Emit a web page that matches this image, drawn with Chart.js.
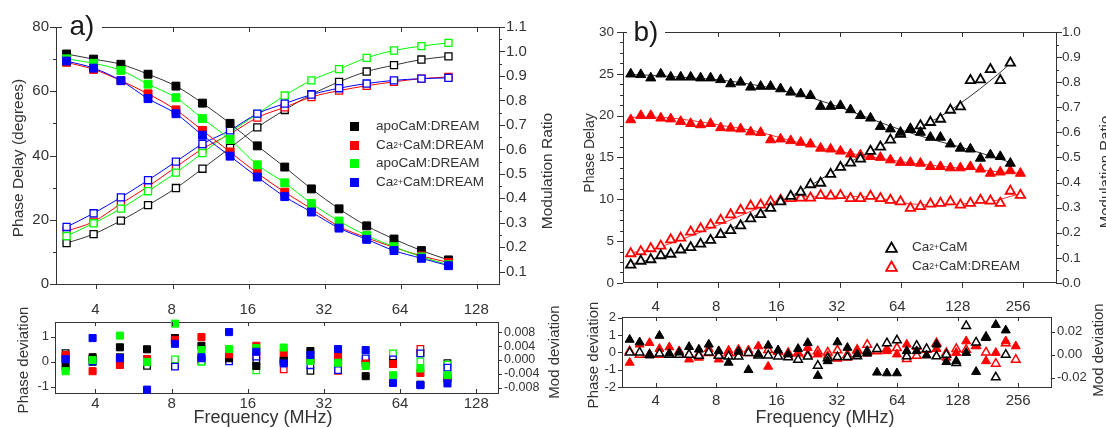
<!DOCTYPE html>
<html><head><meta charset="utf-8">
<script src="https://cdn.jsdelivr.net/npm/chart.js@4.4.1/dist/chart.umd.min.js"></script>
<style>
html,body{margin:0;padding:0;background:#fff;}
body{width:1106px;height:428px;position:relative;overflow:hidden;font-family:'Liberation Sans',Arial,sans-serif;color:#333;}
canvas{position:absolute;}
.t{position:absolute;white-space:nowrap;color:#333;line-height:1;}
.r{transform:translate(-50%,-50%) rotate(-90deg);}
.h{transform:translate(-50%,-50%);}
.row{position:absolute;height:14px;display:flex;align-items:center;font-size:13.5px;color:#333;white-space:nowrap;line-height:1;}
.sq{display:inline-block;width:9px;height:9px;margin-right:17px;}
sup{font-size:8.5px;vertical-align:6px;line-height:0;}
.pl{position:absolute;background:#fff;font-size:28px;color:#1a1a1a;line-height:1;text-align:center;}
</style></head><body>
<canvas id="aMain" width="560" height="300" style="left:0;top:0"></canvas>
<canvas id="aRes" width="560" height="128" style="left:0;top:300px"></canvas>
<canvas id="bMain" width="546" height="300" style="left:560px;top:0"></canvas>
<canvas id="bRes" width="546" height="128" style="left:560px;top:300px"></canvas>

<div class="pl" style="left:62px;top:12px;width:40px;">a)</div>
<div class="pl" style="left:627px;top:18px;width:38px;">b)</div>

<div class="t r" style="left:18px;top:158px;font-size:15.5px;">Phase Delay (degrees)</div>
<div class="t r" style="left:547px;top:171px;font-size:15.5px;">Modulation Ratio</div>
<div class="t r" style="left:22px;top:360px;font-size:15px;">Phase deviation</div>
<div class="t r" style="left:553px;top:352px;font-size:15px;">Mod deviation</div>
<div class="t h" style="left:263px;top:417px;font-size:18px;">Frequency (MHz)</div>

<div class="t r" style="left:589px;top:153px;font-size:14px;">Phase Delay</div>
<div class="t r" style="left:1104px;top:172px;font-size:15px;">Modulation Ratio</div>
<div class="t r" style="left:592px;top:355px;font-size:15px;">Phase deviation</div>
<div class="t r" style="left:1097px;top:350px;font-size:15px;">Mod deviation</div>
<div class="t h" style="left:825px;top:417px;font-size:18px;">Frequency (MHz)</div>

<div class="row" style="left:350px;top:119px;"><span class="sq" style="background:#000"></span>apoCaM:DREAM</div>
<div class="row" style="left:350px;top:138px;"><span class="sq" style="background:#ff0000"></span>Ca<sup>2+</sup>CaM:DREAM</div>
<div class="row" style="left:350px;top:156px;"><span class="sq" style="background:#00ff00"></span>apoCaM:DREAM</div>
<div class="row" style="left:350px;top:175px;"><span class="sq" style="background:#0000ff"></span>Ca<sup>2+</sup>CaM:DREAM</div>

<div class="row" style="left:885px;top:240px;"><svg width="13" height="12" style="margin-right:14px"><polygon points="6.5,1.5 11.8,10.8 1.2,10.8" fill="#fff" stroke="#000" stroke-width="1.8"/></svg>Ca<sup>2+</sup>CaM</div>
<div class="row" style="left:885px;top:259px;"><svg width="13" height="12" style="margin-right:14px"><polygon points="6.5,1.5 11.8,10.8 1.2,10.8" fill="#fff" stroke="#ff0000" stroke-width="1.8"/></svg>Ca<sup>2+</sup>CaM:DREAM</div>

<script>
// ---------------- Panel a data ----------------
const aFreq = [3.05, 3.9, 5.0, 6.4, 8.25, 10.5, 13.5, 17.3, 22.2, 28.3, 36.4, 46.8, 60, 77, 98.5];
const aPhaseApo     = [71.6, 70.0, 68.4, 65.3, 61.6, 56.3, 50.0, 43.0, 36.4, 29.6, 23.4, 18.1, 14.0, 10.4, 7.5];
const aPhaseCaRed   = [69.0, 66.8, 63.3, 59.2, 54.2, 47.8, 41.1, 34.5, 28.6, 23.4, 17.9, 14.4, 11.4, 8.75, 6.7];
const aPhaseApoGrn  = [70.1, 68.7, 66.5, 62.2, 58.0, 51.5, 45.0, 37.1, 31.5, 25.1, 19.6, 15.1, 11.6, 8.45, 6.0];
const aPhaseCaBlue  = [69.4, 67.2, 63.3, 57.7, 53.0, 46.3, 39.8, 33.3, 27.2, 22.4, 17.4, 13.9, 10.4, 8.0, 5.7];
const aModApo       = [0.217, 0.254, 0.309, 0.372, 0.442, 0.521, 0.606, 0.69, 0.761, 0.824, 0.876, 0.918, 0.944, 0.967, 0.98];
const aModCaRed     = [0.266, 0.305, 0.378, 0.448, 0.528, 0.602, 0.663, 0.73, 0.772, 0.814, 0.84, 0.86, 0.876, 0.889, 0.896];
const aModApoGrn    = [0.246, 0.298, 0.358, 0.429, 0.505, 0.585, 0.67, 0.745, 0.82, 0.882, 0.928, 0.974, 1.004, 1.022, 1.035];
const aModCaBlue    = [0.283, 0.339, 0.404, 0.474, 0.55, 0.622, 0.678, 0.746, 0.787, 0.824, 0.85, 0.869, 0.882, 0.889, 0.892];
// residuals (panel a)
const aResPhaseApo    = [-0.2, 0.18, 0.58, 0.5, 0.95, 0.64, 0.14, -0.17, 0.07, 0.43, 0.0, -0.58, -0.05, -0.92, -0.65];
const aResPhaseCaRed  = [0.27, -0.38, -0.13, 0.07, 0.88, 0.99, 0.3, 0.64, 0.36, 0.1, 0.24, -0.07, -0.09, -0.45, -0.7];
const aResPhaseApoGrn = [-0.38, 0.07, 1.05, -0.01, 1.53, 0.47, 0.51, 0.55, 0.57, 0.03, -0.04, -0.17, -0.54, -0.27, -0.54];
const aResPhaseCaBlue = [0.1, 0.95, 0.14, -1.12, 0.72, 0.18, 1.19, 0.4, -0.07, 0.27, 0.51, 0.47, -0.85, -0.94, -0.87];
const aResModApo      = [0.002, -0.0005, 0.0008, -0.0017, -0.0015, 0.0, 0.0005, -0.0004, -0.0005, -0.0031, 0.0, -0.0001, -0.0011, 0.002, -0.0009];
const aResModCaRed    = [0.0005, 0.0003, -0.0006, 0.0003, -0.0008, -0.0002, 0.0002, 0.0013, -0.0027, 0.0003, -0.0031, -0.0006, 0.0, 0.0032, -0.0032];
const aResModApoGrn   = [0.0, 0.0, 0.0, -0.0003, 0.0002, -0.0005, 0.0006, -0.003, 0.0, 0.0, -0.0012, 0.0015, 0.0019, -0.0004, -0.0013];
const aResModCaBlue   = [0.0003, -0.0004, 0.0, -0.0003, -0.0019, 0.0005, -0.0004, 0.001, -0.0003, -0.0015, -0.0029, 0.0005, 0.0002, 0.0019, -0.0022];

// ---------------- Panel b data ----------------
const bFreq = [2.97, 3.33, 3.73, 4.18, 4.68, 5.24, 5.87, 6.57, 7.36, 8.25, 9.24, 10.35, 11.6, 13.0, 14.55, 16.3, 18.3, 20.5, 22.9, 25.7,
               28.8, 32.2, 36.1, 40.4, 45.3, 50.7, 56.8, 63.7, 71.3, 79.9, 89.5, 100.3, 112.3, 125.8, 141, 158, 177, 198, 222, 249];
const bPhaseCaM = [24.97, 24.9, 24.5, 24.97, 24.6, 24.6, 24.6, 24.5, 24.5, 24.3, 23.8, 24.0, 23.4, 23.5, 23.5, 23.2, 22.8, 22.6, 22.4, 21.1,
                   21.1, 21.2, 20.7, 20.0, 19.7, 18.7, 18.4, 18.0, 18.4, 18.0, 17.4, 17.4, 16.6, 16.1, 16.0, 14.9, 15.3, 15.1, 14.3];
const bPhaseCaMDREAM = [19.5, 20.0, 20.0, 19.7, 19.6, 19.3, 19.05, 18.9, 19.05, 18.55, 18.5, 18.4, 18.05, 17.98, 17.1, 17.2, 17.0, 16.8, 16.6, 16.1,
                        16.0, 15.75, 15.4, 15.3, 15.1, 15.0, 14.7, 14.4, 14.4, 14.3, 13.9, 13.9, 13.75, 13.75, 13.9, 13.6, 13.1, 13.25, 13.4, 13.1];
const bModCaM = [0.072, 0.087, 0.093, 0.109, 0.115, 0.132, 0.141, 0.155, 0.170, 0.193, 0.209, 0.228, 0.256, 0.273, 0.298, 0.324, 0.346, 0.362, 0.392, 0.398,
                 0.433, 0.461, 0.478, 0.494, 0.525, 0.542, 0.570, 0.593, 0.612, 0.627, 0.640, 0.653, 0.689, 0.702, 0.807, 0.810, 0.851, 0.807, 0.877];
const bModCaMDREAM = [0.117, 0.125, 0.137, 0.147, 0.172, 0.179, 0.203, 0.216, 0.231, 0.25, 0.272, 0.29, 0.307, 0.311, 0.324, 0.330, 0.337, 0.339, 0.339, 0.349,
                      0.347, 0.349, 0.337, 0.337, 0.346, 0.337, 0.330, 0.324, 0.298, 0.305, 0.315, 0.318, 0.324, 0.311, 0.318, 0.330, 0.327, 0.318, 0.366, 0.350];
// fitted curves (panel b)
const bFitFreqCaM = [3, 4, 6, 8, 12, 16, 24, 32, 48, 64, 96, 128, 192, 222];
const bFitPhaseCaM = [24.9, 24.8, 24.5, 24.3, 23.7, 23.1, 22.0, 21.0, 19.4, 18.3, 17.0, 16.2, 14.9, 14.4];
const bFitModCaM = [0.075, 0.1, 0.142, 0.187, 0.265, 0.32, 0.398, 0.46, 0.535, 0.59, 0.655, 0.72, 0.83, 0.875];
const bFitFreqCaMDREAM = [3, 4, 6, 8, 12, 16, 24, 32, 48, 64, 96, 128, 192, 222, 249];
const bFitPhaseCaMDREAM = [19.8, 19.8, 19.4, 18.9, 18.2, 17.4, 16.3, 15.7, 15.0, 14.5, 14.0, 13.7, 13.3, 13.2, 13.1];
const bFitModCaMDREAM = [0.12, 0.14, 0.19, 0.23, 0.29, 0.33, 0.345, 0.345, 0.34, 0.32, 0.31, 0.315, 0.33, 0.345, 0.355];
// residuals (panel b)
const bResPhaseCaM = [0.74, 0.59, -0.17, 0.97, -0.06, 0.0, 0.32, 0.17, 0.46, 0.08, -0.59, 0.05, -1.01, -0.11, 0.4, 0.13, -0.11, 0.21, 0.55, -1.35,
                      -0.5, 0.59, 0.27, -0.11, -0.06, -1.16, -1.2, -1.2, 0.08, 0.08, -0.17, 0.46, -0.55, -0.5, -0.02, -1.12, 0.84, 1.6, 1.28];
const bResPhaseCaMDREAM = [-0.59, 0.46, 0.55, 0.21, 0.3, 0.08, -0.4, -0.3, 0.21, -0.4, 0.11, 0.17, 0.13, 0.36, -0.82, 0.02, -0.2, 0.0, 0.27, -0.11,
                           -0.2, -0.36, -0.3, 0.08, -0.06, 0.17, 0.08, -0.11, 0.46, 0.32, 0.17, 0.21, -0.3, -0.02, 0.65, 0.36, -0.5, -0.02, 0.65, 0.36];
const bResModCaM = [0.002, 0.002, 0.0, 0.001, 0.0, 0.0, 0.0, -0.001, 0.002, -0.001, -0.0015, -0.0015, 0.0015, -0.0006, -0.0006, -0.0015, -0.0023, -0.0043, -0.0015, -0.0096,
                    -0.003, -0.002, -0.002, -0.0014, 0.003, 0.005, 0.01, 0.0125, -0.0014, 0.0078, 0.005, -0.0014, 0.0, -0.0072, 0.025, 0.0107, 0.0154, -0.0197, 0.0];
const bResModCaMDREAM = [0.003, 0.0, 0.0, 0.0, 0.0, 0.0, 0.0, 0.0, 0.0015, 0.0, 0.0015, 0.0015, 0.0015, 0.0, 0.004, 0.003, 0.0015, 0.001, 0.0, 0.003,
                         0.002, 0.0038, 0.0, 0.0043, 0.0087, 0.003, 0.005, 0.0058, -0.0038, -0.0009, 0.0043, 0.01, 0.0014, 0.005, 0.0043, 0.0078, 0.002, -0.0078, 0.01, -0.0043];

// ---------------- tick labels ----------------
const aXTicks = [4, 8, 16, 32, 64, 128];
const bXTicks = [4, 8, 16, 32, 64, 128, 256];
const aPhaseTicks = [0, 20, 40, 60, 80];
const aModTicks = [0.1, 0.2, 0.3, 0.4, 0.5, 0.6, 0.7, 0.8, 0.9, 1.0, 1.1];
const aResPhaseTicks = [-1, 0, 1];
const aResModTicks = [-0.008, -0.004, 0, 0.004, 0.008];
const bPhaseTicks = [0, 5, 10, 15, 20, 25, 30];
const bModTicks = [0, 0.1, 0.2, 0.3, 0.4, 0.5, 0.6, 0.7, 0.8, 0.9, 1.0];
const bResPhaseTicks = [-2, -1, 0, 1, 2];
const bResModTicks = [-0.02, 0, 0.02];

// ---------------- helpers ----------------
const BLACK = '#000000', RED = '#ff0000', GREEN = '#00ff00', BLUE = '#0000ff';
Chart.defaults.font.family = "'Liberation Sans', Arial, sans-serif";
Chart.defaults.color = '#333';
Chart.defaults.animation = false;

function minorBetween(majors, n) {
  const out = [];
  for (let i = 0; i < majors.length - 1; i++) {
    const a = majors[i], b = majors[i + 1];
    for (let k = 1; k <= n; k++) out.push(a + (b - a) * k / (n + 1));
  }
  return out;
}
const pts = (xs, ys) => ys.map((y, i) => ({x: xs[i], y}));

function tickPlugin(marks) {
  return {
    id: 'tickMarks',
    afterDraw(chart) {
      const ctx = chart.ctx, ca = chart.chartArea;
      ctx.save();
      ctx.strokeStyle = '#333'; ctx.lineWidth = 1;
      marks.forEach(m => {
        const s = chart.scales[m.id];
        const vals = Array.isArray(m.values) ? m.values : s.ticks.map(t => t.value);
        vals.forEach(v => {
          if (v < s.min - 1e-9 || v > s.max + 1e-9) return;
          const p = Math.round(s.getPixelForValue(v)) + 0.5;
          ctx.beginPath();
          if (s.isHorizontal()) {
            const y0 = s.position === 'top' ? ca.top : ca.bottom;
            const inward = s.position === 'top' ? 1 : -1;
            const d = (m.dir === 'in' ? inward : -inward) * m.len;
            ctx.moveTo(p, y0); ctx.lineTo(p, y0 + d);
          } else {
            const x0 = s.position === 'left' ? ca.left : ca.right;
            const inward = s.position === 'left' ? 1 : -1;
            const d = (m.dir === 'in' ? inward : -inward) * m.len;
            ctx.moveTo(x0, p); ctx.lineTo(x0 + d, p);
          }
          ctx.stroke();
        });
      });
      ctx.restore();
    }
  };
}

function xAxis(pos, min, max, ticks, o) {
  return {
    type: 'logarithmic', position: pos, min, max,
    grid: {display: false, drawTicks: false},
    border: {display: true, color: '#333', width: 1},
    ticks: {display: !!o.labels, autoSkip: false, maxRotation: 0, minRotation: 0, padding: o.pad || 0,
            font: {size: o.font || 14}, color: '#333', callback: v => String(v)},
    afterBuildTicks: s => { s.ticks = ticks.map(v => ({value: v})); },
    afterFit: s => { s.height = o.size; }
  };
}
function yAxis(pos, min, max, ticks, o) {
  return {
    type: 'linear', position: pos, min, max,
    grid: {display: false, drawTicks: false},
    border: {display: true, color: '#333', width: 1},
    ticks: {display: o.labels !== false, autoSkip: false, padding: o.pad || 0,
            font: {size: o.font || 14}, color: '#333', callback: v => o.fmt ? o.fmt(v) : String(v)},
    afterBuildTicks: s => { s.ticks = ticks.map(v => ({value: v})); },
    afterFit: s => { s.width = o.size; }
  };
}
function ds(data, color, shape, r, open, axis, line, extra) {
  return Object.assign({
    data, yAxisID: axis, showLine: !!line,
    borderColor: color, borderWidth: 1,
    pointStyle: shape, pointRadius: r, pointHoverRadius: r,
    pointBackgroundColor: open ? '#ffffff' : color,
    pointBorderColor: color, pointBorderWidth: open ? 1.3 : 1,
    cubicInterpolationMode: 'monotone', clip: false
  }, extra || {});
}
function fitLine(data, color, axis) {
  return {data, yAxisID: axis, showLine: true, borderColor: color, borderWidth: 1, pointRadius: 0,
          pointHoverRadius: 0, cubicInterpolationMode: 'monotone', clip: false};
}
function makeChart(id, datasets, scales, marks) {
  return new Chart(document.getElementById(id), {
    type: 'scatter',
    data: {datasets},
    options: {
      responsive: false, maintainAspectRatio: false, animation: false,
      layout: {padding: 0},
      plugins: {legend: {display: false}, tooltip: {enabled: false}},
      scales
    },
    plugins: [tickPlugin(marks)]
  });
}

// ---------------- Panel a main ----------------
makeChart('aMain', [
    ds(pts(aFreq, aPhaseCaBlue), BLUE, 'rect', 5.6, false, 'y', true),
    ds(pts(aFreq, aPhaseApoGrn), GREEN, 'rect', 5.6, false, 'y', true),
    ds(pts(aFreq, aPhaseCaRed), RED, 'rect', 5.6, false, 'y', true),
    ds(pts(aFreq, aPhaseApo), BLACK, 'rect', 5.6, false, 'y', true, {borderColor: '#333', pointBorderColor: BLACK}),
    ds(pts(aFreq, aModCaBlue), BLUE, 'rect', 5, true, 'y2', true),
    ds(pts(aFreq, aModApoGrn), GREEN, 'rect', 5, true, 'y2', true),
    ds(pts(aFreq, aModCaRed), RED, 'rect', 5, true, 'y2', true),
    ds(pts(aFreq, aModApo), BLACK, 'rect', 5, true, 'y2', true, {borderColor: '#333', pointBorderColor: BLACK})
  ], {
    x: xAxis('bottom', 2.77, 156, aXTicks, {size: 5}),
    x2: xAxis('top', 2.77, 156, aXTicks, {size: 27}),
    y: yAxis('left', 0, 80, aPhaseTicks, {size: 56, pad: 7, font: 15}),
    y2: yAxis('right', 0.05, 1.1, aModTicks, {size: 61, pad: 7, font: 15, fmt: v => v.toFixed(1)})
  }, [
    {id: 'y', dir: 'out', len: 6}, {id: 'y', values: [10, 30, 50, 70], dir: 'out', len: 3},
    {id: 'y2', dir: 'out', len: 6}, {id: 'y2', values: minorBetween(aModTicks, 1), dir: 'out', len: 3},
    {id: 'x', dir: 'out', len: 5}, {id: 'x2', dir: 'in', len: 5}
  ]);

// ---------------- Panel a residuals ----------------
makeChart('aRes', [
    ds(pts(aFreq, aResPhaseCaBlue), BLUE, 'rect', 5, false, 'y'),
    ds(pts(aFreq, aResPhaseApoGrn), GREEN, 'rect', 5, false, 'y'),
    ds(pts(aFreq, aResPhaseCaRed), RED, 'rect', 5, false, 'y'),
    ds(pts(aFreq, aResPhaseApo), BLACK, 'rect', 5, false, 'y'),
    ds(pts(aFreq, aResModCaBlue), BLUE, 'rect', 4.6, true, 'y2'),
    ds(pts(aFreq, aResModApoGrn), GREEN, 'rect', 4.6, true, 'y2'),
    ds(pts(aFreq, aResModCaRed), RED, 'rect', 4.6, true, 'y2'),
    ds(pts(aFreq, aResModApo), BLACK, 'rect', 4.6, true, 'y2')
  ], {
    x: xAxis('bottom', 2.77, 156, aXTicks, {size: 35, labels: true, pad: 2, font: 15}),
    x2: xAxis('top', 2.77, 156, aXTicks, {size: 22, labels: true, pad: 3, font: 15}),
    y: yAxis('left', -1.255, 1.595, aResPhaseTicks, {size: 55, pad: 6, font: 13}),
    y2: yAxis('right', -0.00951, 0.01097, aResModTicks, {size: 62, pad: 6, font: 12.5, fmt: v => v.toFixed(3)})
  }, [
    {id: 'y', dir: 'out', len: 4}, {id: 'y2', dir: 'out', len: 4},
    {id: 'x', dir: 'in', len: 4}, {id: 'x2', dir: 'in', len: 4}
  ]);

// ---------------- Panel b main ----------------
makeChart('bMain', [
    ds(pts(bFreq, bPhaseCaM), BLACK, 'triangle', 5.8, false, 'y'),
    ds(pts(bFreq, bModCaM), BLACK, 'triangle', 5.4, true, 'y2', false, {pointBorderWidth: 1.8}),
    ds(pts(bFreq, bPhaseCaMDREAM), RED, 'triangle', 5.8, false, 'y'),
    ds(pts(bFreq, bModCaMDREAM), RED, 'triangle', 5.4, true, 'y2', false, {pointBorderWidth: 1.8}),
    fitLine(pts(bFitFreqCaM, bFitPhaseCaM), '#333', 'y'),
    fitLine(pts(bFitFreqCaM, bFitModCaM), '#333', 'y2'),
    fitLine(pts(bFitFreqCaMDREAM, bFitPhaseCaMDREAM), '#ff3030', 'y'),
    fitLine(pts(bFitFreqCaMDREAM, bFitModCaMDREAM), '#ff3030', 'y2')
  ], {
    x: xAxis('bottom', 2.72, 373, bXTicks, {size: 7}),
    x2: xAxis('top', 2.72, 373, bXTicks, {size: 32}),
    y: yAxis('left', 0, 30, bPhaseTicks, {size: 63, pad: 9, font: 13.5}),
    y2: yAxis('right', 0, 1.0, bModTicks, {size: 50, pad: 6, font: 13.5, fmt: v => v.toFixed(1)})
  }, [
    {id: 'y', dir: 'out', len: 6}, {id: 'y', values: minorBetween(bPhaseTicks, 3), dir: 'out', len: 3},
    {id: 'y2', dir: 'out', len: 6}, {id: 'y2', values: minorBetween(bModTicks, 1), dir: 'out', len: 3},
    {id: 'x', dir: 'out', len: 5}, {id: 'x2', dir: 'in', len: 5}
  ]);

// ---------------- Panel b residuals ----------------
makeChart('bRes', [
    ds(pts(bFreq, bResPhaseCaM), BLACK, 'triangle', 5.2, false, 'y'),
    ds(pts(bFreq, bResModCaM), BLACK, 'triangle', 5, true, 'y2', false, {pointBorderWidth: 1.5}),
    ds(pts(bFreq, bResPhaseCaMDREAM), RED, 'triangle', 5.2, false, 'y'),
    ds(pts(bFreq, bResModCaMDREAM), RED, 'triangle', 5, true, 'y2', false, {pointBorderWidth: 1.5})
  ], {
    x: xAxis('bottom', 2.72, 373, bXTicks, {size: 41, labels: true, pad: 5, font: 15}),
    x2: xAxis('top', 2.72, 373, bXTicks, {size: 17, labels: true, pad: 1, font: 15}),
    y: yAxis('left', -2.0, 2.05, bResPhaseTicks, {size: 62, pad: 6, font: 13}),
    y2: yAxis('right', -0.0281, 0.0328, bResModTicks, {size: 55, pad: 6, font: 13, fmt: v => v.toFixed(2)})
  }, [
    {id: 'y', dir: 'out', len: 4}, {id: 'y2', dir: 'out', len: 4},
    {id: 'x', dir: 'in', len: 4}, {id: 'x2', dir: 'in', len: 4}
  ]);
</script>
</body></html>
